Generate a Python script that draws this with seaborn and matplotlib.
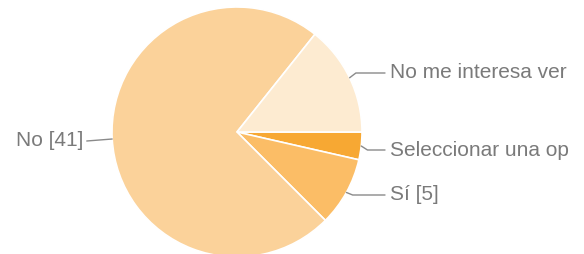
import numpy as np
import matplotlib
matplotlib.use('Agg')
import matplotlib.pyplot as plt
import seaborn as sns

# data, clockwise from 3 o'clock
# the two long labels are cut off in the source chart; keep the visible part
labels = ['Seleccionar una op', 'Sí [5]', 'No [41]', 'No me interesa ver']
counts = [2, 5, 41, 8]
colors = ['#F7A833', '#FBBD66', '#FBD29A', '#FDEBD1']

sns.set_style('white')
plt.rcParams['font.family'] = ['Liberation Sans', 'DejaVu Sans']

fig = plt.figure(figsize=(5.84, 2.54), dpi=100)
# pie centre at ~(237,132) px, radius ~125 px
ax = fig.add_axes([112 / 584, -3 / 254, 250 / 584, 250 / 254])
wedges, _ = ax.pie(counts, colors=colors, startangle=0, counterclock=False,
                   wedgeprops=dict(edgecolor='white', linewidth=1.2))
ax.set_xlim(-1, 1)
ax.set_ylim(-1, 1)
ax.set_aspect('equal')
ax.axis('off')

# label y positions (data units)
label_y = [-0.144, -0.504, -0.072, 0.472]
txt_col = '#7a7a7a'
line_col = '#8a8a8a'
for w, lab, ly in zip(wedges, labels, label_y):
    mid = np.deg2rad((w.theta1 + w.theta2) / 2)
    ex, ey = np.cos(mid), np.sin(mid)
    if ex > 0:
        tx = 1.224
        xs = [ex, ex + 0.05, tx - 0.04]
        ys = [ey, ly, ly]
        ax.plot(xs, ys, color=line_col, lw=1, clip_on=False)
        ax.text(tx, ly, lab, ha='left', va='center', fontsize=15,
                color=txt_col, clip_on=False)
    else:
        tx = -1.232
        ax.plot([ex, tx + 0.03], [ey, ly], color=line_col, lw=1, clip_on=False)
        ax.text(tx, ly, lab, ha='right', va='center', fontsize=15,
                color=txt_col, clip_on=False)

fig.savefig('out.png', dpi=100, facecolor='white')
